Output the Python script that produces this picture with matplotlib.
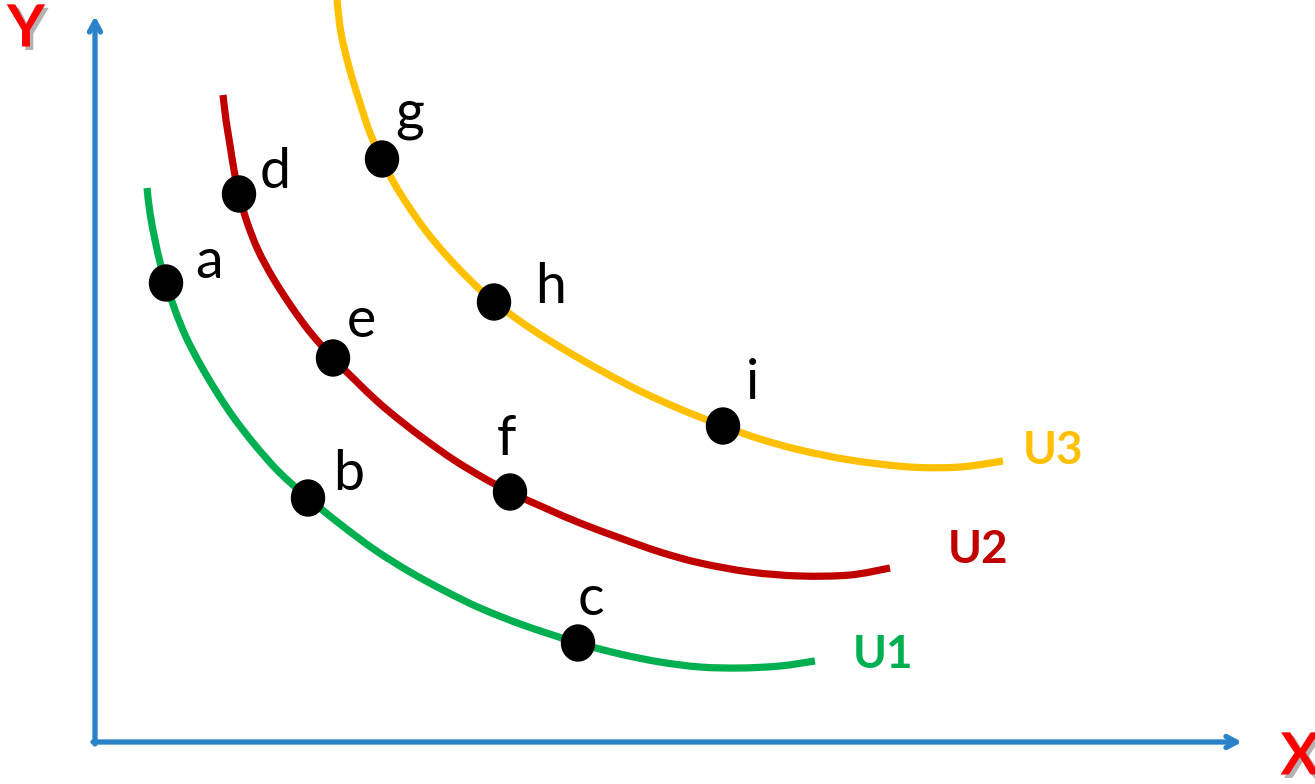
import numpy as np
import matplotlib.pyplot as plt
import matplotlib.patheffects as pe
from matplotlib.patches import Ellipse, PathPatch
from matplotlib.path import Path

# Curves (pixel space, y grows downward)
u1_x = [147, 150, 155, 160, 166, 175, 186, 200, 216, 234, 255, 279, 308, 340, 375,
        410, 445, 480, 523, 578, 620, 660, 700, 740, 780, 815]
u1_y = [188, 213, 240, 262, 283, 310, 337, 364, 391, 418, 445, 472, 498, 524, 550,
        572, 591, 608, 625, 643, 654, 662, 667, 668, 666, 661]

u2_x = [223, 226, 230, 234, 239, 247, 258, 273, 291, 310, 333, 355, 378, 402, 427,
        454, 482, 510, 545, 580, 620, 660, 700, 750, 800, 850, 890]
u2_y = [95, 120, 145, 170, 194, 222, 250, 278, 306, 332, 358, 380, 402, 422, 441,
        460, 477, 492, 508, 523, 538, 552, 563, 572, 576, 575, 568]

u3_x = [337, 341, 349, 359, 370, 382, 394, 409, 426, 446, 469, 494, 530, 565, 600,
        640, 680, 723, 760, 800, 850, 910, 960, 1003]
u3_y = [0, 33, 67, 100, 133, 159, 183, 207, 231, 255, 279, 302, 328, 350, 370,
        391, 409, 426, 439, 450, 460, 467, 467, 461]

# Points on the curves
pt_names = ["a", "b", "c", "d", "e", "f", "g", "h", "i"]
pt_x = [166, 308, 578, 239, 333, 510, 382, 494, 723]
pt_y = [283, 498, 643, 194, 358, 492, 159, 302, 426]
# label offset from each dot
lab_dx = [29, 25, 0, 21, 14, -13, 13, 41, 23]
lab_dy = [-5, -8, -28, -6, -21, -37, -30, 1, -27]

curve_names = ["U1", "U2", "U3"]
curve_colors = ["#00B050", "#C00000", "#FFC000"]
curve_label_pos = [(883, 655), (978, 550), (1053, 451)]

axis_blue = "#2A83C8"
shadow = [pe.SimpleLineShadow(offset=(2.5, -2.5), shadow_color="gray", alpha=0.6), pe.Normal()]


def smooth_path(xs, ys):
    # Catmull-Rom through the read points, drawn as cubic Bezier segments
    p = np.column_stack([xs, ys]).astype(float)
    ext = np.vstack([p[0], p, p[-1]])
    verts = [p[0]]
    codes = [Path.MOVETO]
    for i in range(1, len(ext) - 2):
        c1 = ext[i] + (ext[i + 1] - ext[i - 1]) / 6
        c2 = ext[i + 1] - (ext[i + 2] - ext[i]) / 6
        verts += [c1, c2, ext[i + 1]]
        codes += [Path.CURVE4] * 3
    return Path(verts, codes)


fig = plt.figure(figsize=(13.15, 7.84), dpi=100)
ax = fig.add_axes([0, 0, 1, 1])
ax.set_xlim(0, 1315)
ax.set_ylim(784, 0)
ax.axis("off")

# axes with arrows
ax.annotate("", xy=(95, 16), xytext=(95, 744),
            arrowprops=dict(arrowstyle="->,head_length=0.75,head_width=0.4",
                            color=axis_blue, lw=3.8, shrinkA=0, shrinkB=0),
            path_effects=shadow)
ax.annotate("", xy=(1242, 742), xytext=(93, 742),
            arrowprops=dict(arrowstyle="->,head_length=0.75,head_width=0.4",
                            color=axis_blue, lw=3.8, shrinkA=0, shrinkB=0),
            path_effects=shadow)

txt_shadow = [pe.withSimplePatchShadow(offset=(2.5, -2.5), shadow_rgbFace="gray", alpha=0.6)]
ax.text(26, 30, "Y", color="#FF0000", fontsize=42, fontweight="bold", family="Lato",
        ha="center", va="center", path_effects=txt_shadow)
ax.text(1300, 758, "X", color="#FF0000", fontsize=42, fontweight="bold", family="Lato",
        ha="center", va="center", path_effects=txt_shadow)

for xs, ys, col, name, pos in zip([u1_x, u2_x, u3_x], [u1_y, u2_y, u3_y],
                                  curve_colors, curve_names, curve_label_pos):
    ax.add_patch(PathPatch(smooth_path(xs, ys), fill=False, edgecolor=col, lw=5.2,
                           capstyle="butt", joinstyle="round"))
    ax.text(pos[0], pos[1], name, color=col, fontsize=33, fontweight="bold",
            family="Lato", ha="center", va="center")

for n, x, y, dx, dy in zip(pt_names, pt_x, pt_y, lab_dx, lab_dy):
    ax.add_patch(Ellipse((x, y), 33, 36, color="black", zorder=5))
    ax.text(x + dx, y + dy, n, fontsize=40, family="Lato", ha="left", va="baseline")

fig.savefig("out.png", dpi=100)
